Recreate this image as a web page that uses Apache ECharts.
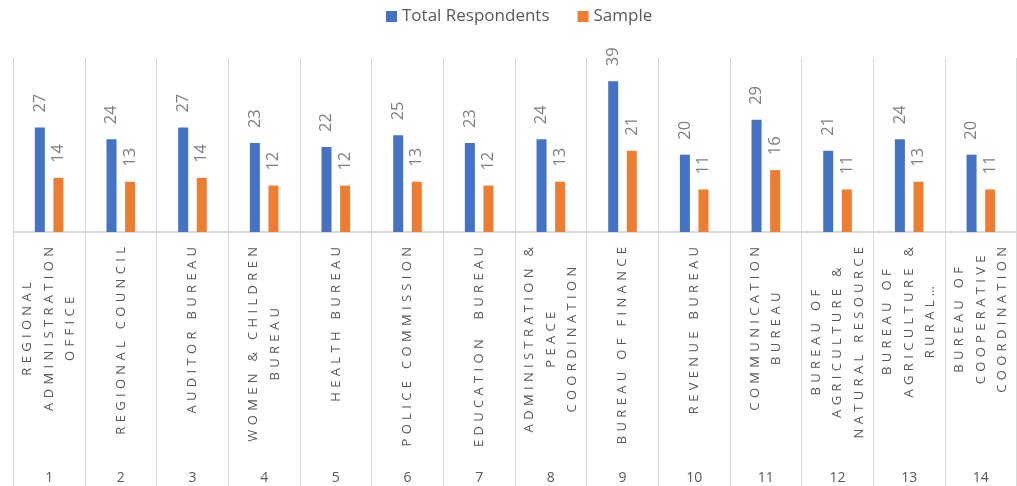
<!DOCTYPE html>
<html>
<head>
<meta charset="utf-8">
<script src="https://cdn.jsdelivr.net/npm/echarts@6/dist/echarts.min.js"></script>
<style>html,body{margin:0;padding:0;background:#fff}#c{width:1017px;height:486px}</style>
</head>
<body>
<div id="c"></div>
<script>
const categories = [
  'REGIONAL\nADMINISTRATION\nOFFICE',
  'REGIONAL COUNCIL',
  'AUDITOR BUREAU',
  'WOMEN & CHILDREN\nBUREAU',
  'HEALTH BUREAU',
  'POLICE COMMISSION',
  'EDUCATION  BUREAU',
  'ADMINISTRATION &\nPEACE\nCOORDINATION',
  'BUREAU OF FINANCE',
  'REVENUE BUREAU',
  'COMMUNICATION\nBUREAU',
  'BUREAU OF\nAGRICULTURE &\nNATURAL RESOURCE',
  'BUREAU OF\nAGRICULTURE &\nRURAL…',
  'BUREAU OF\nCOOPERATIVE\nCOORDINATION'
];
const ids = ['1','2','3','4','5','6','7','8','9','10','11','12','13','14'];
const totalRespondents = [27,24,27,23,22,25,23,24,39,20,29,21,24,20];
const sample = [14,13,14,12,12,13,12,13,21,11,16,11,13,11];

const FONT = '"Open Sans", "Liberation Sans", sans-serif';
const GRID = '#d9d9d9';
function spaced(s){ return s.split('').join('\u2004'); }

const chart = echarts.init(document.getElementById('c'), null, {renderer:'canvas'});
const labelStyle = {
  show: true, position: 'top', rotate: 90, align: 'left', verticalAlign: 'middle',
  distance: 15, fontSize: 16.5, color: '#7f7f7f', fontFamily: FONT
};
chart.setOption({
  animation: false,
  backgroundColor: '#fff',
  legend: {
    top: 3, left: 381, itemWidth: 11, itemHeight: 11, itemGap: 28, icon: 'rect',
    textStyle: {fontSize: 17, color: '#595959', fontFamily: FONT},
    data: ['Total Respondents', 'Sample']
  },
  grid: {left: 13.3, right: 0.3, top: 58, bottom: 254, containLabel: false},
  xAxis: [{
    type: 'category', data: categories, position: 'bottom',
    axisLine: {show: true, lineStyle: {color: GRID, width: 2}},
    axisTick: {show: true, length: 254, interval: 0, lineStyle: {color: GRID, width: 1}},
    splitLine: {show: true, interval: 0, lineStyle: {color: GRID, width: 1}},
    axisLabel: {
      interval: 0, rotate: 90, margin: 15,
      formatter: function(v){ return v.split('\n').map(l => '{c|' + spaced(l) + '}').join('\n'); },
      rich: {c: {align: 'center', fontSize: 13, lineHeight: 21.5, color: '#595959', fontFamily: FONT}}
    }
  }, {
    type: 'category', data: ids, position: 'bottom',
    axisLine: {show: false}, axisTick: {show: false}, splitLine: {show: false},
    axisLabel: {interval: 0, margin: 239, fontSize: 14, color: '#595959', fontFamily: FONT}
  }],
  yAxis: {type: 'value', min: 0, max: 45, show: false, splitLine: {show: false}},
  series: [{
    name: 'Total Respondents', type: 'bar', data: totalRespondents,
    barWidth: 10, barGap: '86%', itemStyle: {color: '#4472c4'}, label: labelStyle
  }, {
    name: 'Sample', type: 'bar', data: sample,
    barWidth: 10, barGap: '86%', itemStyle: {color: '#ed7d31'}, label: labelStyle
  }]
});
</script>
</body>
</html>
